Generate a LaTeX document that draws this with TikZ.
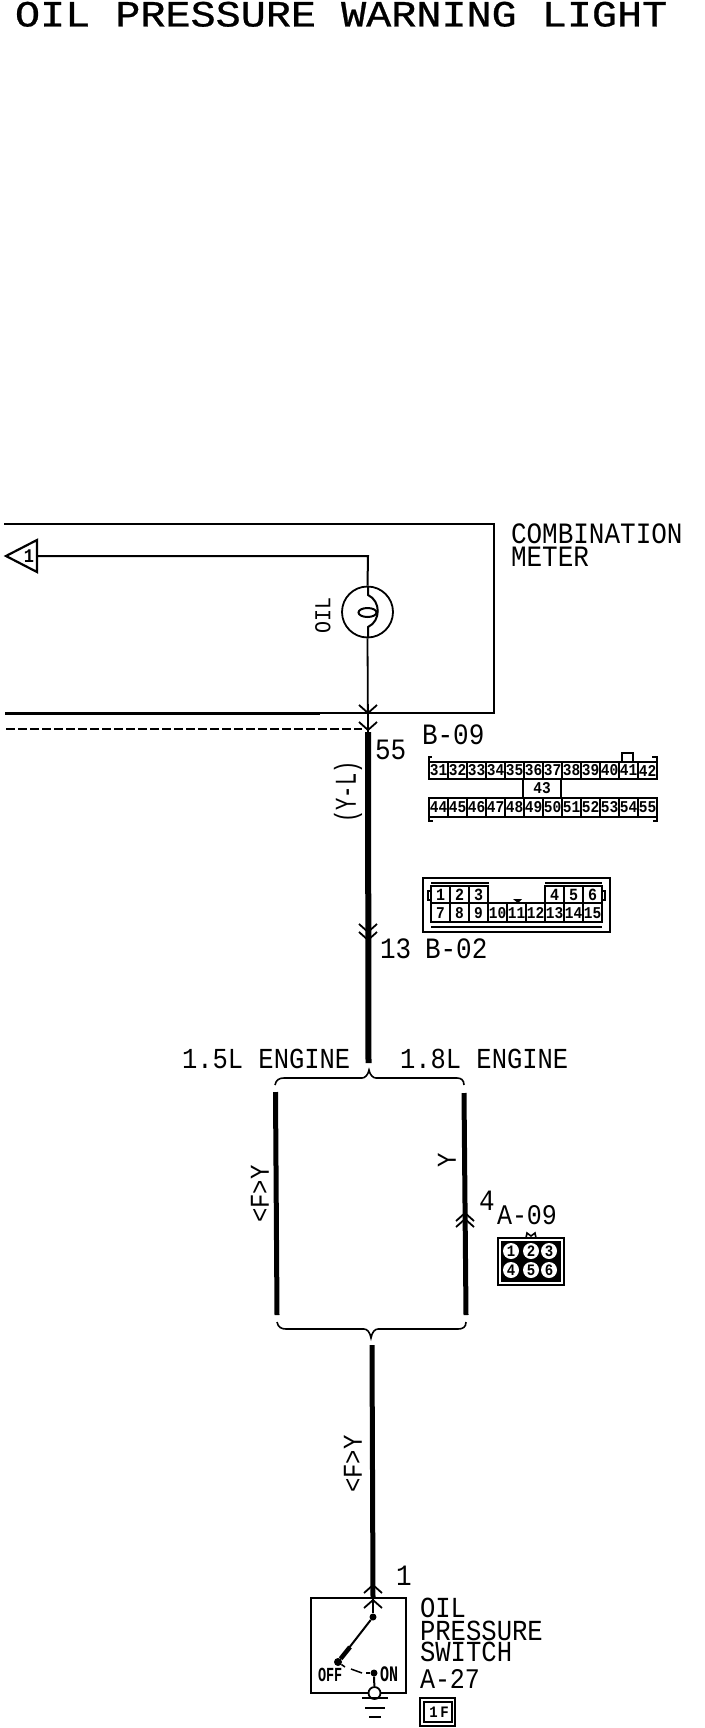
\documentclass[tikz,border=0pt]{standalone}
\usepackage{fontspec}
\setmainfont[FakeStretch=0.88]{Liberation Mono}
\newfontfamily\titlefont[FakeStretch=1.13,FakeBold=0.7]{Liberation Mono}
\newcommand{\fs}[1]{\fontsize{\the\dimexpr #1pt*1136/1000\relax}{#1pt}\selectfont}
\tikzset{
  lbl/.style={anchor=base west,inner sep=0pt,outer sep=0pt,font=\fs{26}},
  rotlbl/.style={anchor=center,inner sep=0pt,rotate=90,font=\fs{24}},
  celltxt/.style={inner sep=0pt,font=\fs{14.5}\bfseries},
  thin wire/.style={line width=1.8pt},
  thick wire/.style={line width=5pt},
  frame/.style={line width=1.7pt},
  chev/.style={line width=1.8pt},
  cell/.style={line width=2pt,draw=black}
}
\newcommand{\chevdown}[2]{\draw[chev] (#1-9,#2-8)--(#1,#2)--(#1+9,#2-8);}
\newcommand{\chevup}[2]{\draw[chev] (#1-9,#2+8)--(#1,#2)--(#1+9,#2+8);}
\begin{document}
\begin{tikzpicture}[x=1pt,y=-1pt]
\useasboundingbox (0,0) rectangle (704,1728);
\fill[white] (0,0) rectangle (704,1728);
% title
\node[lbl,font={\titlefont\fontsize{37pt}{37pt}\selectfont}] (title) at (15,26.5) {OIL PRESSURE WARNING LIGHT};
% combination meter box
\coordinate (bTL) at (4,524); \coordinate (bTR) at (494,524);
\coordinate (bBR) at (494,713); \coordinate (bBM) at (320,713); \coordinate (bBL) at (5,713);
\draw[frame] (bTL)--(bTR)--(bBR)--(bBM);
\draw[line width=3pt] (bBM)--(bBL);
\node[lbl] (cm1) at (511,543) {COMBINATION};
\node[lbl] (cm2) at (511,566) {METER};
% tag triangle
\node[inner sep=0pt,font=\fs{17}\bfseries] (tag) at (29,556) {1};
\coordinate (tagR) at (37,556);
\draw[line width=2.2pt,line join=miter] (37,540)--(6,556)--(37,572)--cycle;
% lamp
\node[draw,circle,line width=1.8pt,minimum size=51pt,inner sep=0pt] (lamp) at (367.5,612) {};
\coordinate (corner) at (368,556);
\draw[line width=2pt] (tagR)--(corner)--(lamp.north);
\draw[line width=2pt] (368,586)--(368,595) .. controls (381,601) and (381,621) .. (368,627)--(368,638);
\draw[line width=2pt] (367.5,612.5) ellipse [x radius=9,y radius=4.5];
\node[rotlbl,font=\fs{20}] (oil) at (323,615) {OIL};
% wire to B-09
\coordinate (p55) at (368,734); \coordinate (p13) at (368,940);
\coordinate (wEnd) at (368.5,1063);
\draw[thin wire] (lamp.south)--(p55);
\chevdown{368}{713}
\chevdown{368}{730}
\coordinate (dL) at (6,729);
\draw[line width=1.6pt,dash pattern=on 9pt off 3pt] (dL)--(362,729);
\draw[line width=6pt] (368,732)--(wEnd);
\chevdown{368}{932}
\chevdown{368}{940}
\node[lbl] (n55) at (375,759) {55};
\node[rotlbl,font=\fs{20.5}] (yl) at (348,792) {\scalebox{1}[1.3]{(Y-L)}};
\node[lbl] (b09) at (422,744) {B-09};
% B-09 connector
\foreach \i [count=\k from 0] in {31,...,42}{
  \draw[cell] ({429+19*\k},762) rectangle ({448+19*\k},779);
  \node[celltxt] at ({438.5+19*\k},770.5) {\i};
}
\foreach \i [count=\k from 0] in {44,...,55}{
  \draw[cell] ({429+19*\k},798) rectangle ({448+19*\k},817);
  \node[celltxt] at ({438.5+19*\k},807.5) {\i};
}
\draw[cell] (523,779) rectangle (561,798);
\node[celltxt] at (542,788.5) {43};
\draw[cell] (429,762)--(429,757)--(432,757);
\draw[cell] (657,762)--(657,757)--(652,757);
\draw[cell] (622,762)--(622,753)--(633,753)--(633,762);
\draw[cell] (429,817)--(429,821)--(433,821);
\draw[cell] (657,817)--(657,821)--(653,821);
% B-02 connector
\draw[line width=2pt] (423,878) rectangle (610,932);
\draw[line width=1.6pt] (431,883)--(489,883);
\draw[line width=1.6pt] (545,883)--(602,883);
\draw[line width=1.6pt] (431,927)--(602,927);
\foreach \i [count=\k from 0] in {1,2,3}{
  \draw[cell] ({431+19*\k},886) rectangle ({450+19*\k},903);
  \node[celltxt,font=\fs{15}\bfseries] at ({440.5+19*\k},895) {\i};
}
\foreach \i [count=\k from 6] in {4,5,6}{
  \draw[cell] ({431+19*\k},886) rectangle ({450+19*\k},903);
  \node[celltxt,font=\fs{15}\bfseries] at ({440.5+19*\k},895) {\i};
}
\foreach \i [count=\k from 0] in {7,8,...,15}{
  \draw[cell] ({431+19*\k},903) rectangle ({450+19*\k},922);
  \node[celltxt,font=\fs{14.5}\bfseries] at ({440.5+19*\k},913) {\i};
}
\draw[line width=1.6pt] (428,891) rectangle (431,900);
\draw[line width=1.6pt] (602,891) rectangle (605,900);
\fill (513,899)--(522,899)--(518,903)--cycle;
\node[lbl] (n13) at (380,958) {13};
\node[lbl] (b02) at (425,958) {B-02};
% engine labels and braces
\node[lbl,font=\fs{25.5}] (e15) at (182,1068) {1.5L ENGINE};
\node[lbl,font=\fs{25.5}] (e18) at (400,1068) {1.8L ENGINE};
\coordinate (bt) at (369,1070);
\draw[line width=1.6pt] (275,1085) .. controls (276,1080) and (279,1078) .. (284,1078)
  -- (362,1078) .. controls (365,1078) and (368,1075) .. (bt)
  .. controls (370,1075) and (373,1078) .. (376,1078)
  -- (457,1078) .. controls (461,1078) and (464,1080) .. (464,1085);
\coordinate (lT) at (275.5,1092); \coordinate (lB) at (277,1315);
\coordinate (rT) at (464,1093); \coordinate (rB) at (466,1315);
\draw[thick wire] (lT)--(lB);
\draw[thick wire] (rT)--(rB);
\coordinate (bb) at (371,1338);
\draw[line width=1.6pt] (277,1322) .. controls (278,1327) and (281,1329) .. (286,1329)
  -- (364,1329) .. controls (367,1329) and (370,1332) .. (bb)
  .. controls (372,1332) and (375,1329) .. (378,1329)
  -- (458,1329) .. controls (463,1329) and (466,1327) .. (466,1322);
\node[rotlbl] (fy1) at (260,1194) {<F>Y};
\node[rotlbl] (y1) at (447,1160) {Y};
\node[lbl] (n4) at (479,1210) {4};
\chevup{465}{1213}
\chevup{465}{1219}
\node[lbl,font=\fs{25}] (a09) at (497,1224) {A-09};
% A-09 connector
\draw[line width=2pt] (498,1238) rectangle (564,1285);
\draw[line width=1.6pt] (526,1238)--(527,1233)--(531,1236)--(535,1233)--(536,1238);
\fill (501,1241) rectangle (561,1282);
\foreach \i/\x/\y in {1/511/1251,2/531/1251,3/549/1251,4/511/1270,5/531/1270,6/549/1270}{
  \node[circle,fill=white,minimum size=16pt,inner sep=0pt,font=\fs{14}\bfseries] at (\x,\y) {\i};
}
% lower wire
\coordinate (sT) at (372,1345); \coordinate (sB) at (373,1597);
\draw[thick wire] (sT)--(sB);
\node[rotlbl] (fy2) at (353,1464) {<F>Y};
\node[lbl] (n1) at (396,1585) {1};
\chevup{373}{1585}
\chevup{373}{1600}
% switch
\draw[frame] (311,1598) rectangle (406,1693);
\node[circle,fill,inner sep=0pt,minimum size=7pt] (sw1) at (373,1617) {};
\node[circle,fill,inner sep=0pt,minimum size=8pt] (sw2) at (338,1662) {};
\node[circle,fill,inner sep=0pt,minimum size=7pt] (sw3) at (374,1673) {};
\node[circle,draw,fill=white,line width=1.8pt,inner sep=0pt,minimum size=12pt] (sw4) at (374.5,1693) {};
\draw[line width=2pt] (sB)--(sw1);
\draw[line width=2pt] (sw1)--(sw2);
\draw[line width=4.5pt] (350,1647)--(sw2);
\draw[line width=1.5pt] (sw2)--(345,1667);
\draw[line width=1.5pt] (351,1669)--(362,1673);
\draw[line width=1.5pt] (366,1673)--(sw3);
\draw[line width=2pt] (sw3)--(sw4);
\node[lbl,font=\fs{13.5}\bfseries] (off) at (318,1681) {\scalebox{1}[1.3]{OFF}};
\node[lbl,font=\fs{15}\bfseries] (on) at (380,1681) {\scalebox{1}[1.3]{ON}};
\coordinate (g1) at (362,1698); \coordinate (g2) at (388,1698);
\draw[line width=1.8pt] (g1)--(g2);
\draw[line width=1.8pt] (365,1708)--(385,1708);
\draw[line width=1.8pt] (369,1717)--(381,1717);
\node[lbl,font=\fs{25.6}] (s1) at (420,1617) {OIL};
\node[lbl,font=\fs{25.6}] (s2) at (420,1640) {PRESSURE};
\node[lbl,font=\fs{25.6}] (s3) at (420,1661) {SWITCH};
\node[lbl,font=\fs{25}] (s4) at (420,1688) {A-27};
% 1F connector
\draw[line width=2pt] (420,1698) rectangle (455,1726);
\draw[line width=1.6pt] (424,1702) rectangle (452,1722);
\node[inner sep=0pt,font=\fs{14}\bfseries] (cf) at (439,1712) {1\,F};
\end{tikzpicture}
\end{document}
